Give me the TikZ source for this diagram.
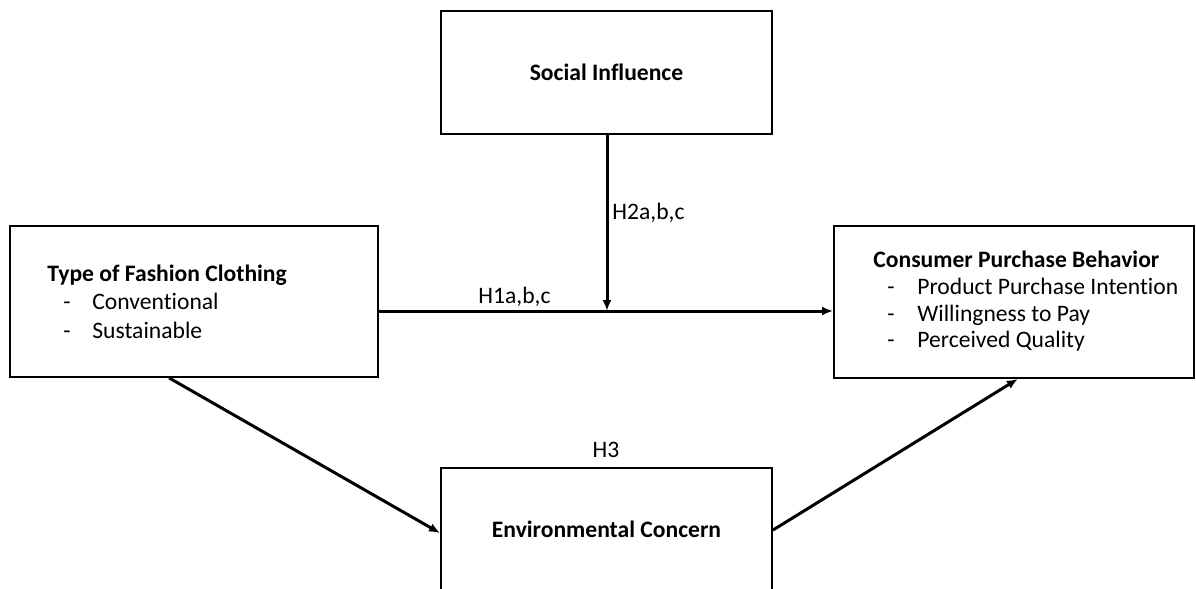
\documentclass[tikz,border=0pt]{standalone}
\usepackage{fontspec}
\setmainfont{Carlito}[Ligatures=CommonOff]
\usetikzlibrary{arrows.meta}
\begin{document}
\begin{tikzpicture}[x=0.5pt,y=-0.5pt,
  box/.style={draw=black, line width=0.9pt, rectangle, inner sep=0pt},
  arr/.style={line width=1.5pt, -{Latex[length=5.5pt,width=4.5pt]}},
  txt/.style={font=\fontsize{11.8pt}{14pt}\selectfont, inner sep=0pt},
  btxt/.style={font=\fontsize{11.8pt}{14pt}\selectfont\bfseries, inner sep=0pt}]
\useasboundingbox (0,0) rectangle (1196,589);
% boxes
\node[box, minimum width=165.5pt, minimum height=61.5pt] (si) at (606.5,72.5) {};
\node[box, minimum width=184pt, minimum height=75.5pt] (type) at (194,301.5) {};
\node[box, minimum width=180pt, minimum height=76pt] (cons) at (1014,302) {};
\node[box, minimum width=165.5pt, minimum height=66pt] (env) at (606.5,534) {};
% box texts
\node[btxt, anchor=base] (sit) at (606.5,80) {Social Influence};
\node[btxt, anchor=base west] (t0) at (47,281) {Type of Fashion Clothing};
\node[txt, anchor=base west] (t1d) at (63,309) {-};
\node[txt, anchor=base west] (t1) at (92,309) {Conventional};
\node[txt, anchor=base west] (t2d) at (63,338) {-};
\node[txt, anchor=base west] (t2) at (92,338) {Sustainable};
\node[btxt, anchor=base west] (c0) at (873,267) {Consumer Purchase Behavior};
\node[txt, anchor=base west] (c1d) at (887,294) {-};
\node[txt, anchor=base west] (c1) at (917,294) {Product Purchase Intention};
\node[txt, anchor=base west] (c2d) at (887,321) {-};
\node[txt, anchor=base west] (c2) at (917,321) {Willingness to Pay};
\node[txt, anchor=base west] (c3d) at (887,347) {-};
\node[txt, anchor=base west] (c3) at (917,347) {Perceived Quality};
\node[btxt, anchor=base] (envt) at (606.5,537) {Environmental Concern};
% hypothesis labels
\node[txt, anchor=base west] (h2) at (612,219) {H2a,b,c};
\node[txt, anchor=base west] (h1) at (478,303) {H1a,b,c};
\node[txt, anchor=base] (h3) at (606,457) {H3};
% connectors
\coordinate (mid) at (607,311);
\draw[arr] (type.east |- mid) -- (cons.west |- mid);
\draw[arr] (si.south -| mid) -- (mid);
\draw[arr] ([xshift=80pt]type.south west) -- ([yshift=-33pt]env.north west);
\draw[arr] ([yshift=-31.5pt]env.north east) -- ([xshift=-88.5pt]cons.south east);
\end{tikzpicture}
\end{document}
